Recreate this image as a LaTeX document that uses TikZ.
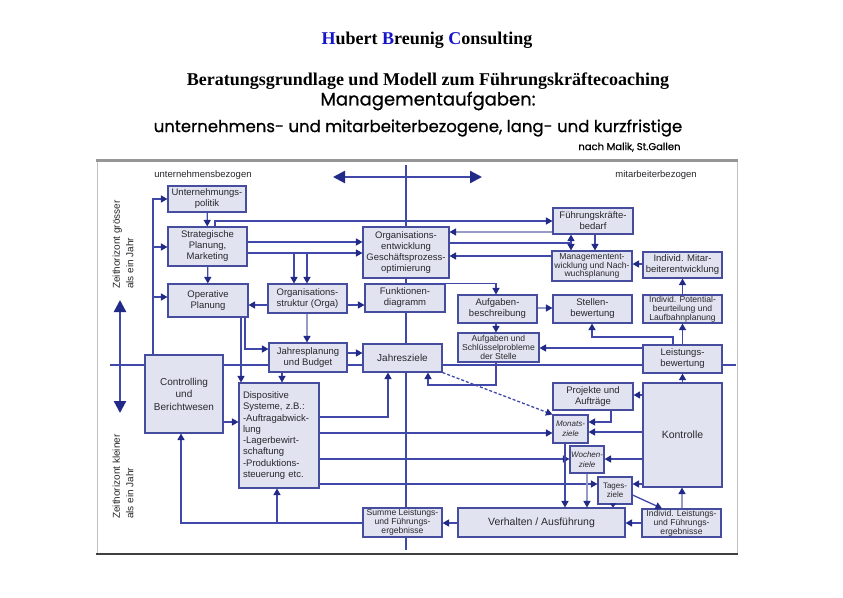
\documentclass[tikz,border=0pt]{standalone}
\usepackage{fontspec}
\setmainfont{Liberation Serif}
\newfontfamily\dsf{Liberation Sans}
\newfontfamily\geo{Poppins}[FakeBold=0.7]
\usetikzlibrary{arrows.meta,shadows}
\definecolor{boxfill}{RGB}{226,227,240}
\definecolor{boxedge}{RGB}{70,76,158}
\definecolor{linec}{RGB}{64,72,170}
\definecolor{lightc}{RGB}{150,155,200}
\definecolor{arrowc}{RGB}{34,42,135}
\definecolor{txtc}{RGB}{40,40,45}
\definecolor{hbc}{RGB}{20,20,200}
\definecolor{framec}{RGB}{150,150,150}
\newcommand\bx[6][]{\node[box,#1,minimum width={#4-#2},minimum height={#5-#3}] (#6) at ({(#2+#4)/2},{(#3+#5)/2})}
\tikzset{
 box/.style={draw=boxedge, line width=1.1pt, fill=boxfill, inner sep=0pt, align=center,
   font=\dsf\fontsize{9.5}{11}\selectfont, text=txtc,
   drop shadow={shadow xshift=1.3pt, shadow yshift=-1.3pt, fill=boxedge!55, opacity=1}},
 ln/.style={draw=linec, line width=1.3pt, -{Triangle[length=6.5pt,width=7pt,color=arrowc]}},
 lnl/.style={ln, draw=lightc},
 plain/.style={draw=linec, line width=1.3pt},
 axisline/.style={draw=linec, line width=2.4pt},
 bigarrow/.style={axisline, {Triangle[length=12pt,width=12pt,color=arrowc]}-{Triangle[length=12pt,width=12pt,color=arrowc]}},
 lbl/.style={font=\dsf\fontsize{9.5}{11}\selectfont, text=txtc},
 vlbl/.style={rotate=90, anchor=west, align=left, inner sep=0pt, font=\dsf\fontsize{10}{13.5}\selectfont, text=txtc},
 small/.style={font=\dsf\itshape\fontsize{8}{9.5}\selectfont},
 tight/.style={font=\dsf\fontsize{8.6}{8.9}\selectfont},
}
\begin{document}
\begin{tikzpicture}[x=1pt,y=-1pt,font=\dsf]
\fill[white] (0,0) rectangle (843,597);
\useasboundingbox (0,0) rectangle (843,597);

% header
\node[font=\rmfamily\bfseries\fontsize{18}{21}\selectfont] (h1) at (427,40)
  {\textcolor{hbc}{H}ubert \textcolor{hbc}{B}reunig \textcolor{hbc}{C}onsulting};
\node[font=\rmfamily\bfseries\fontsize{18}{21}\selectfont] (h2) at (428,81)
  {Beratungsgrundlage und Modell zum Führungskräftecoaching};
\node[font=\geo\fontsize{18}{21}\selectfont] (h3) at (428,101) {Managementaufgaben:};
\node[font=\geo\fontsize{16.5}{19}\selectfont] (h4) at (418,128)
  {unternehmens- und mitarbeiterbezogene, lang- und kurzfristige};
\node[font=\geo\fontsize{10}{11}\selectfont, anchor=east] (h5) at (684,147) {nach Malik, St.Gallen};

% frame
\draw[framec!60, line width=0.8pt] (97,160) rectangle (737,553);
\draw[framec, line width=3pt] (96,160) -- (738,160);
\draw[black!75, line width=2pt] (96,553.5) -- (738,553.5);

% labels
\node[lbl] (lu) at (203,175) {unternehmensbezogen};
\node[lbl] (lm) at (656,175) {mitarbeiterbezogen};
\node[vlbl] (zg) at (123,289) {Zeithorizont grösser\\als ein Jahr};
\node[vlbl] (zk) at (123,519) {Zeithorizont kleiner\\als ein Jahr};

% axes
\draw[axisline] (110,365) -- (736,365);
\draw[axisline] (406,165) -- (406,550);
\draw[bigarrow] (333,177) -- (482,177);
\draw[bigarrow] (120,300) -- (120,413);

% boxes
\bx{168}{186}{246}{212}{UP} {Unternehmungs-\\politik};
\bx{168}{227}{247}{266}{SP} {Strategische\\Planung,\\Marketing};
\bx{168}{284}{248}{317}{OP} {Operative\\Planung};
\bx{268}{284}{347}{313}{ORG} {Organisations-\\struktur (Orga)};
\bx{363}{227}{449}{278}{OE} {Organisations-\\entwicklung\\Geschäftsprozess-\\optimierung};
\bx{365}{284}{445}{312}{FD} {Funktionen-\\diagramm};
\bx{458}{295}{537}{323}{AB} {Aufgaben-\\beschreibung};
\bx[tight]{458}{333}{539}{362}{ASP} {Aufgaben und\\Schlüsselprobleme\\der Stelle};
\bx{553}{208}{633}{234}{FKB} {Führungskräfte-\\bedarf};
\bx[tight]{552}{251}{632}{281}{ME} {Managementent-\\wicklung und Nach-\\wuchsplanung};
\bx{643}{252}{722}{278}{IME} {Individ. Mitar-\\beiterentwicklung};
\bx{553}{295}{632}{323}{SB} {Stellen-\\bewertung};
\bx[tight]{643}{295}{722}{323}{IPL} {Individ. Potential-\\beurteilung und\\Laufbahnplanung};
\bx{643}{345}{722}{373}{LB} {Leistungs-\\bewertung};
\bx{269}{343}{347}{372}{JP} {Jahresplanung\\und Budget};
\bx[font=\dsf\fontsize{10}{12.5}\selectfont]{363}{344}{442}{372}{JZ} {Jahresziele};
\bx[font=\dsf\fontsize{10}{12.5}\selectfont]{145}{355}{223}{433}{CB} {Controlling\\und\\Berichtwesen};
\bx[align=left,text width=72pt,font=\dsf\fontsize{9.5}{11.3}\selectfont]{239}{383}{319}{488}{DS} {Dispositive\\Systeme, z.B.:\\-Auftragabwick-\\lung\\-Lagerbewirt-\\schaftung\\-Produktions-\\steuerung etc.};
\bx[tight]{363}{508}{442}{537}{SUM} {Summe Leistungs-\\und Führungs-\\ergebnisse};
\bx[font=\dsf\fontsize{10.5}{12}\selectfont]{458}{508}{625}{537}{VA} {Verhalten / Ausführung};
\bx{553}{383}{633}{410}{PA} {Projekte und\\Aufträge};
\bx[small]{553}{415}{588}{443}{MZ} {Monats-\\ziele};
\bx[small]{570}{446}{604}{473}{WZ} {Wochen-\\ziele};
\bx[font=\dsf\fontsize{8}{9.5}\selectfont]{598}{477}{632}{504}{TZ} {Tages-\\ziele};
\bx[font=\dsf\fontsize{10.5}{12}\selectfont]{643}{383}{722}{487}{KO} {Kontrolle};
\bx[tight]{642}{509}{721}{537}{ILF} {Individ. Leistungs-\\und Führungs-\\ergebnisse};

% connectors
\coordinate (t1) at (153,247);
\coordinate (t2) at (153,297);
\draw[ln] (CB.north -| t1) |- (UP.west |- 0,199);
\draw[ln] (t1) -- (SP.west |- t1);
\draw[ln] (t2) -- (OP.west |- t2);
\draw[ln] (UP) -- (SP);
\draw[ln] (SP) -- (OP);
\draw[ln] (SP.north -| 215,0) |- (FKB.west |- 0,221);
\draw[ln] (SP.east |- 0,242) -- (OE.west |- 0,242);
\draw[ln] (SP.east |- 0,253) -- (OE.west |- 0,253);
\coordinate (o1) at (294,253);
\coordinate (o2) at (307,253);
\draw[ln] (o1) -- (ORG.north -| o1);
\draw[ln] (o2) -- (ORG.north -| o2);
\draw[ln] (ORG.west |- 0,305) -- (OP.east |- 0,305);
\draw[ln] (ORG.east |- 0,305) -- (FD.west |- 0,305);
\draw[lnl] (ORG.south -| o2) -- (JP.north -| o2);
\draw[ln] (OP.south -| 245,0) |- (JP.west |- 0,349);
\draw[ln] (OP.south -| 241,0) -- (DS.north -| 241,0);
\draw[ln] (JP.east |- 0,353) -- (JZ.west |- 0,353);
\draw[ln] (JP.south -| 282,0) -- (DS.north -| 282,0);
\draw[ln] (CB.east |- 0,422) -- (DS.west |- 0,422);
\coordinate (s1) at (277,523);
\draw[ln] (SUM.west |- s1) -| (CB.south -| 181,0);
\draw[ln] (s1) -- (DS.south -| s1);
\draw[ln] (DS.east |- 0,417) -| (JZ.south -| 388,0);
\draw[ln] (DS.east |- 0,433) -- (MZ.west |- 0,433);
\draw[ln] (DS.east |- 0,459) -- (WZ.west |- 0,459);
\draw[ln] (DS.east |- 0,484) -- (TZ.west |- 0,484);
\draw[ln] (ASP.south -| 496,0) -- (496,385) -| (JZ.south -| 428,0);
\draw[ln, dash pattern=on 3pt off 2pt] (JZ.south east) -- (MZ.north west);
\draw[ln] (FD.north) -| (AB.north -| 496,0);
\draw[lnl] (AB.east |- 0,308) -- (SB.west |- 0,308);
\draw[ln] (AB.south -| 496,0) -- (ASP.north -| 496,0);
\draw[lnl] (FKB.west |- 0,232) -- (OE.east |- 0,232);
\coordinate (d1) at (571,243);
\draw[plain] (OE.east |- d1) -- (d1);
\draw[ln] (d1) -- (FKB.south -| d1);
\draw[ln] (d1) -- (ME.north -| d1);
\draw[ln] (ME.west |- 0,256) -- (OE.east |- 0,256);
\draw[ln] (FKB.south -| 595,0) -- (ME.north -| 595,0);
\draw[ln] (IME.west |- 0,264) -- (ME.east |- 0,264);
\draw[ln] (IPL) -- (IME);
\draw[ln] (LB) -- (IPL);
\draw[ln] (LB.north -| 673,0) -- (673,337) -| (SB.south -| 592,0);
\draw[ln] (LB.west |- 0,348) -- (ASP.east |- 0,348);
\draw[ln] (KO) -- (LB);
\draw[ln] (KO.west |- 0,395) -- (PA.east |- 0,395);
\draw[ln] (PA.south -| 611,0) |- (MZ.east |- 0,422);
\draw[ln] (KO.west |- 0,432) -- (MZ.east |- 0,432);
\draw[ln] (KO.west |- 0,459) -- (WZ.east |- 0,459);
\draw[ln] (KO.west |- 0,484) -- (TZ.east |- 0,484);
\draw[lnl] (ILF.north -| 682,0) -- (KO.south -| 682,0);
\draw[ln] (TZ.east |- 0,495) -- (ILF.north -| 662,0);
\draw[ln] (ILF.west |- 0,523) -- (VA.east |- 0,523);
\draw[ln] (VA.west |- 0,523) -- (SUM.east |- 0,523);
\draw[ln] (MZ.south -| 565,0) -- (VA.north -| 565,0);
\draw[lnl] (WZ.south -| 587,0) -- (VA.north -| 587,0);
\draw[draw=linec, line width=1.3pt, -{Triangle[length=4pt,width=6pt,color=arrowc]}] (TZ.south -| 613,0) -- (VA.north -| 613,0);
\end{tikzpicture}
\end{document}
